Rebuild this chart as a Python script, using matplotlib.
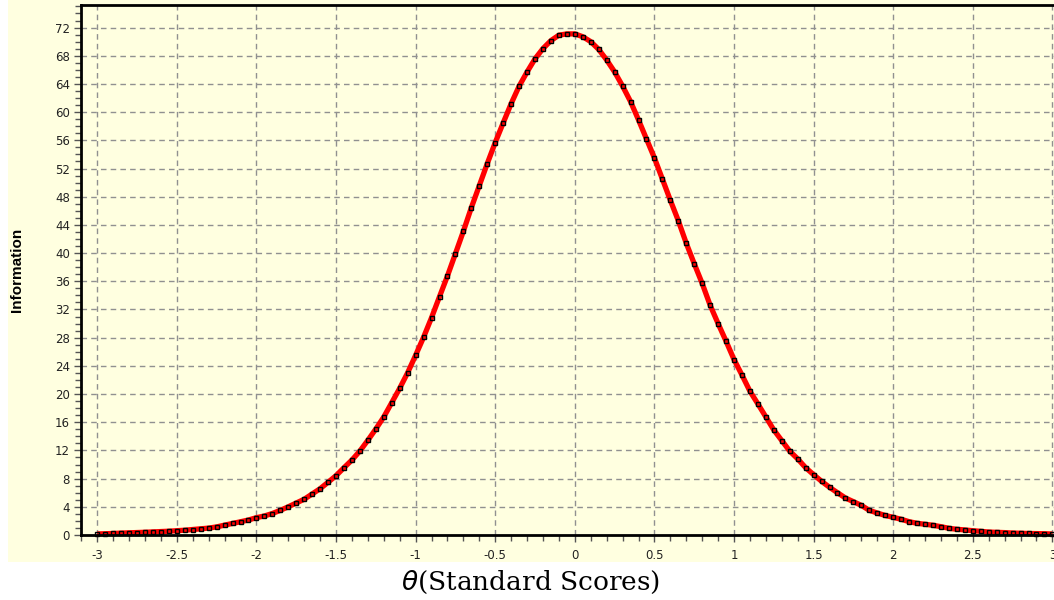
import numpy as np
import matplotlib
matplotlib.use("Agg")
import matplotlib.pyplot as plt
from matplotlib.ticker import MultipleLocator

# theta grid (Standard Scores), step 0.05 from -3 to 3
theta = np.round(np.linspace(-3, 3, 121), 2)
information = [
    0.15, 0.18, 0.22, 0.27, 0.31, 0.35, 0.39, 0.44, 0.49, 0.54,
    0.61, 0.68, 0.78, 0.88, 0.98, 1.15, 1.40, 1.64, 1.88, 2.13,
    2.46, 2.70, 3.05, 3.50, 4.00, 4.54, 5.07, 5.82, 6.57, 7.48,
    8.42, 9.55, 10.64, 11.92, 13.44, 15.04, 16.75, 18.78, 20.82, 23.03,
    25.50, 28.06, 30.84, 33.82, 36.76, 39.92, 43.10, 46.45, 49.57, 52.70,
    55.68, 58.47, 61.20, 63.68, 65.70, 67.56, 69.02, 70.15, 70.92, 71.10,
    71.10,
    70.70, 70.00, 68.90, 67.40, 65.70, 63.70, 61.50, 58.90, 56.20, 53.50,
    50.50, 47.50, 44.60, 41.40, 38.50, 35.70, 32.60, 30.00, 27.50, 24.90,
    22.70, 20.40, 18.60, 16.75, 14.90, 13.40, 11.90, 10.80, 9.55, 8.56,
    7.62, 6.77, 6.00, 5.25, 4.73, 4.20, 3.50, 3.12, 2.77, 2.51,
    2.23, 1.89, 1.66, 1.52, 1.38, 1.18, 0.95, 0.81, 0.72, 0.61,
    0.52, 0.42, 0.38, 0.34, 0.28, 0.25, 0.22, 0.20, 0.18, 0.14,
]
x_ticks = [-3, -2.5, -2, -1.5, -1, -0.5, 0, 0.5, 1, 1.5, 2, 2.5, 3]
x_tick_labels = ["-3", "-2.5", "-2", "-1.5", "-1", "-0.5", "0", "0.5", "1", "1.5", "2", "2.5", "3"]
y_ticks = list(range(0, 73, 4))
x_label = r"$\theta$(Standard Scores)"
y_label = "Information"

W, H = 1054, 600
fig = plt.figure(figsize=(W / 100, H / 100), dpi=100)
fig.patch.set_facecolor("white")
bg = "#FFFFE0"

bgax = fig.add_axes([8 / W, (H - 562) / H, (W - 8) / W, 562 / H], zorder=-5)
bgax.set_facecolor(bg)
bgax.set_xticks([]); bgax.set_yticks([])
for s in bgax.spines.values():
    s.set_visible(False)

ax = fig.add_axes([81 / W, (H - 535) / H, (W - 81) / W, 530 / H], zorder=1)
ax.set_facecolor(bg)
ax.set_xlim(-3.102, 3.01)
ax.set_ylim(0, 75.2)

ax.set_xticks(x_ticks)
ax.set_xticklabels(x_tick_labels)
ax.set_yticks(y_ticks)
ax.xaxis.set_minor_locator(MultipleLocator(0.1))
ax.yaxis.set_minor_locator(MultipleLocator(1))

for v in x_ticks:
    ax.axvline(v, color="#909090", lw=1.0, ls=(0, (4, 3)), zorder=1)
for v in y_ticks[1:]:
    ax.axhline(v, color="#909090", lw=1.0, ls=(0, (4, 3)), zorder=1)

ax.plot(theta, information, color="#FF0000", lw=3.8, zorder=3,
        solid_capstyle="butt", clip_on=False)
ax.plot(theta, information, ls="none", marker="s", ms=2.8, mfc="none",
        mec="black", mew=1.0, zorder=4, clip_on=False)

for s in ["left", "bottom", "top"]:
    ax.spines[s].set_color("black")
    ax.spines[s].set_linewidth(2.0)
    ax.spines[s].set_zorder(5)
ax.spines["right"].set_visible(False)

ax.tick_params(axis="both", which="major", direction="out", length=5,
               width=1, color="#555555", labelsize=8.5, labelcolor="#222222")
ax.tick_params(axis="both", which="minor", direction="out", length=4,
               width=1, color="#555555")
ax.tick_params(axis="x", pad=5)
ax.tick_params(axis="y", pad=3)
for lab in ax.get_xticklabels() + ax.get_yticklabels():
    lab.set_fontfamily("DejaVu Sans")

fig.text(17 / W, 1 - 270 / H, y_label, rotation=90, ha="center", va="center",
         fontsize=11, fontweight="bold", family="Liberation Sans")
fig.text(531 / W, 1 - 582 / H, x_label, ha="center", va="center",
         fontsize=19, family="DejaVu Serif")

fig.savefig("out.png", dpi=100, facecolor="white")
